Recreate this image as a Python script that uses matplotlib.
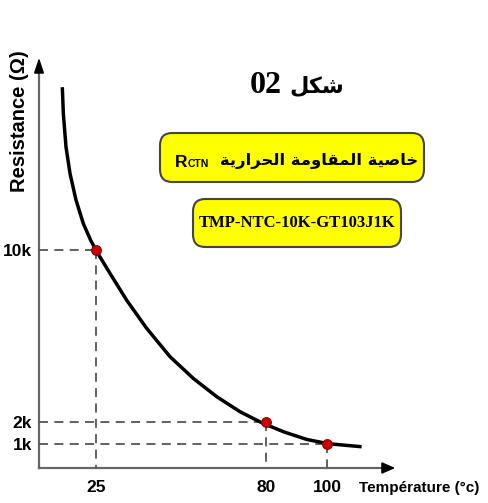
import matplotlib
matplotlib.use("Agg")
import matplotlib.pyplot as plt
from matplotlib.patches import FancyBboxPatch

# marked points (temperature in °C, resistance in kOhm)
temps_marked = [25, 80, 100]
res_marked = [10, 2, 1]

# curve
curve_t = [14.06, 14.39, 15.26, 16.56, 18.51, 20.87, 23.27, 25.2, 29.53, 34.94, 41.43,
           49.0, 56.54, 64.13, 71.68, 78.7, 85.72, 93.31, 100.3, 111.1]
curve_r = [17.6, 16.37, 14.81, 13.58, 12.34, 11.25, 10.47, 9.95, 8.93, 7.68, 6.37,
           5.05, 4.04, 3.19, 2.49, 1.98, 1.56, 1.20, 1.0, 0.86]

x_ticks = [25, 80, 100]
x_labels = ["25", "80", "100"]
y_ticks = [1, 2, 10]
y_labels = ["1k", "2k", "10k"]

title_num = "02"
title_ar = "\uFEDE\uFEDC\uFEB7"  # شكل
label_ar = ("\uFE94\uFEF3\uFEAD\uFE8D\uFEAE\uFEA4\uFEDF\uFE8D" + " " +
            "\uFE94\uFEE3\uFEED\uFE8E\uFED8\uFEE4\uFEDF\uFE8D" + " " +
            "\uFE94\uFEF4\uFEBB\uFE8E\uFEA7")  # خاصية المقاومة الحرارية
ref_txt = "TMP-NTC-10K-GT103J1K"

W, H = 489, 503


def fx(px):
    return px / W


def fy(py):
    return 1 - py / H


fig = plt.figure(figsize=(W / 100, H / 100), dpi=100)
ax = fig.add_axes([fx(39), fy(468), fx(398) - fx(39), fy(55) - fy(468)])
ax.set_xlim(6.5, 122.9)
ax.set_ylim(-0.13, 19.1)
for s in ax.spines.values():
    s.set_visible(False)

axis_col = "#666666"
ax.plot([0, 0], [0, 0.97], color=axis_col, lw=1.6, transform=ax.transAxes, clip_on=False)
ax.plot([0, 0.97], [0, 0], color=axis_col, lw=1.6, transform=ax.transAxes, clip_on=False)
ax.annotate("", xy=(0, 1), xytext=(0, 0.955), xycoords="axes fraction",
            arrowprops=dict(arrowstyle="-|>,head_length=0.9,head_width=0.3", color="black", lw=1.2))
ax.annotate("", xy=(1, 0), xytext=(0.96, 0), xycoords="axes fraction",
            arrowprops=dict(arrowstyle="-|>,head_length=0.8,head_width=0.35", color="black", lw=1.2))

# dashed guides
dash_col = "#555555"
for t, r in zip(temps_marked, res_marked):
    ax.plot([6.5, t], [r, r], color=dash_col, lw=1.3, ls=(0, (5, 3.5)))
    ax.plot([t, t], [r, -0.13], color=dash_col, lw=1.3, ls=(0, (5, 3.5)))

ax.plot(curve_t, curve_r, color="black", lw=2.5, solid_capstyle="butt", solid_joinstyle="round")
ax.plot(temps_marked, res_marked, "o", ms=7, mfc="#cc0000", mec="#880000", mew=0.8, zorder=5)

ax.set_xticks(x_ticks)
ax.set_xticklabels(x_labels)
ax.set_yticks(y_ticks)
ax.set_yticklabels(y_labels)
ax.tick_params(length=0)
ax.tick_params(axis="x", pad=9)
ax.tick_params(axis="y", pad=5)
for lab in ax.get_xticklabels() + ax.get_yticklabels():
    lab.set_fontfamily("Liberation Sans")
    lab.set_fontweight("bold")
    lab.set_fontsize(12.5)

fig.text(fx(359), fy(488), "Température (°c)", ha="left", va="center",
         fontsize=11, fontweight="bold", fontfamily="Liberation Sans")
fig.text(fx(20), fy(121), "Resistance (\u03a9)", rotation=90, ha="center", va="center",
         fontsize=14.5, fontweight="bold", fontfamily="Liberation Sans")

# title
fig.text(fx(250), fy(93), title_num, ha="left", va="baseline", fontsize=23,
         fontweight="bold", fontfamily="Liberation Serif")
fig.text(fx(344), fy(93), title_ar, ha="right", va="baseline", fontsize=16,
         fontweight="bold", fontfamily="DejaVu Sans")

# yellow boxes
box1 = FancyBboxPatch((fx(160), fy(182)), fx(424) - fx(160), fy(133) - fy(182),
                      boxstyle="round,pad=0,rounding_size=0.025", transform=fig.transFigure,
                      fc="#ffff00", ec="#444444", lw=1.5)
box2 = FancyBboxPatch((fx(193), fy(247)), fx(401) - fx(193), fy(199) - fy(247),
                      boxstyle="round,pad=0,rounding_size=0.025", transform=fig.transFigure,
                      fc="#ffff00", ec="#444444", lw=1.5)
fig.patches.extend([box1, box2])

fig.text(fx(175), fy(167), "R", ha="left", va="baseline", fontsize=12.5,
         fontweight="bold", fontfamily="Liberation Sans")
fig.text(fx(188), fy(167), "CTN", ha="left", va="baseline", fontsize=7.5,
         fontweight="bold", fontfamily="Liberation Sans")
fig.text(fx(418), fy(165), label_ar, ha="right", va="baseline", fontsize=11.8,
         fontweight="bold", fontfamily="DejaVu Sans")
fig.text(fx(297), fy(223), ref_txt, ha="center", va="center", fontsize=12,
         fontweight="bold", fontfamily="Liberation Serif")

fig.savefig("out.png", dpi=100)
